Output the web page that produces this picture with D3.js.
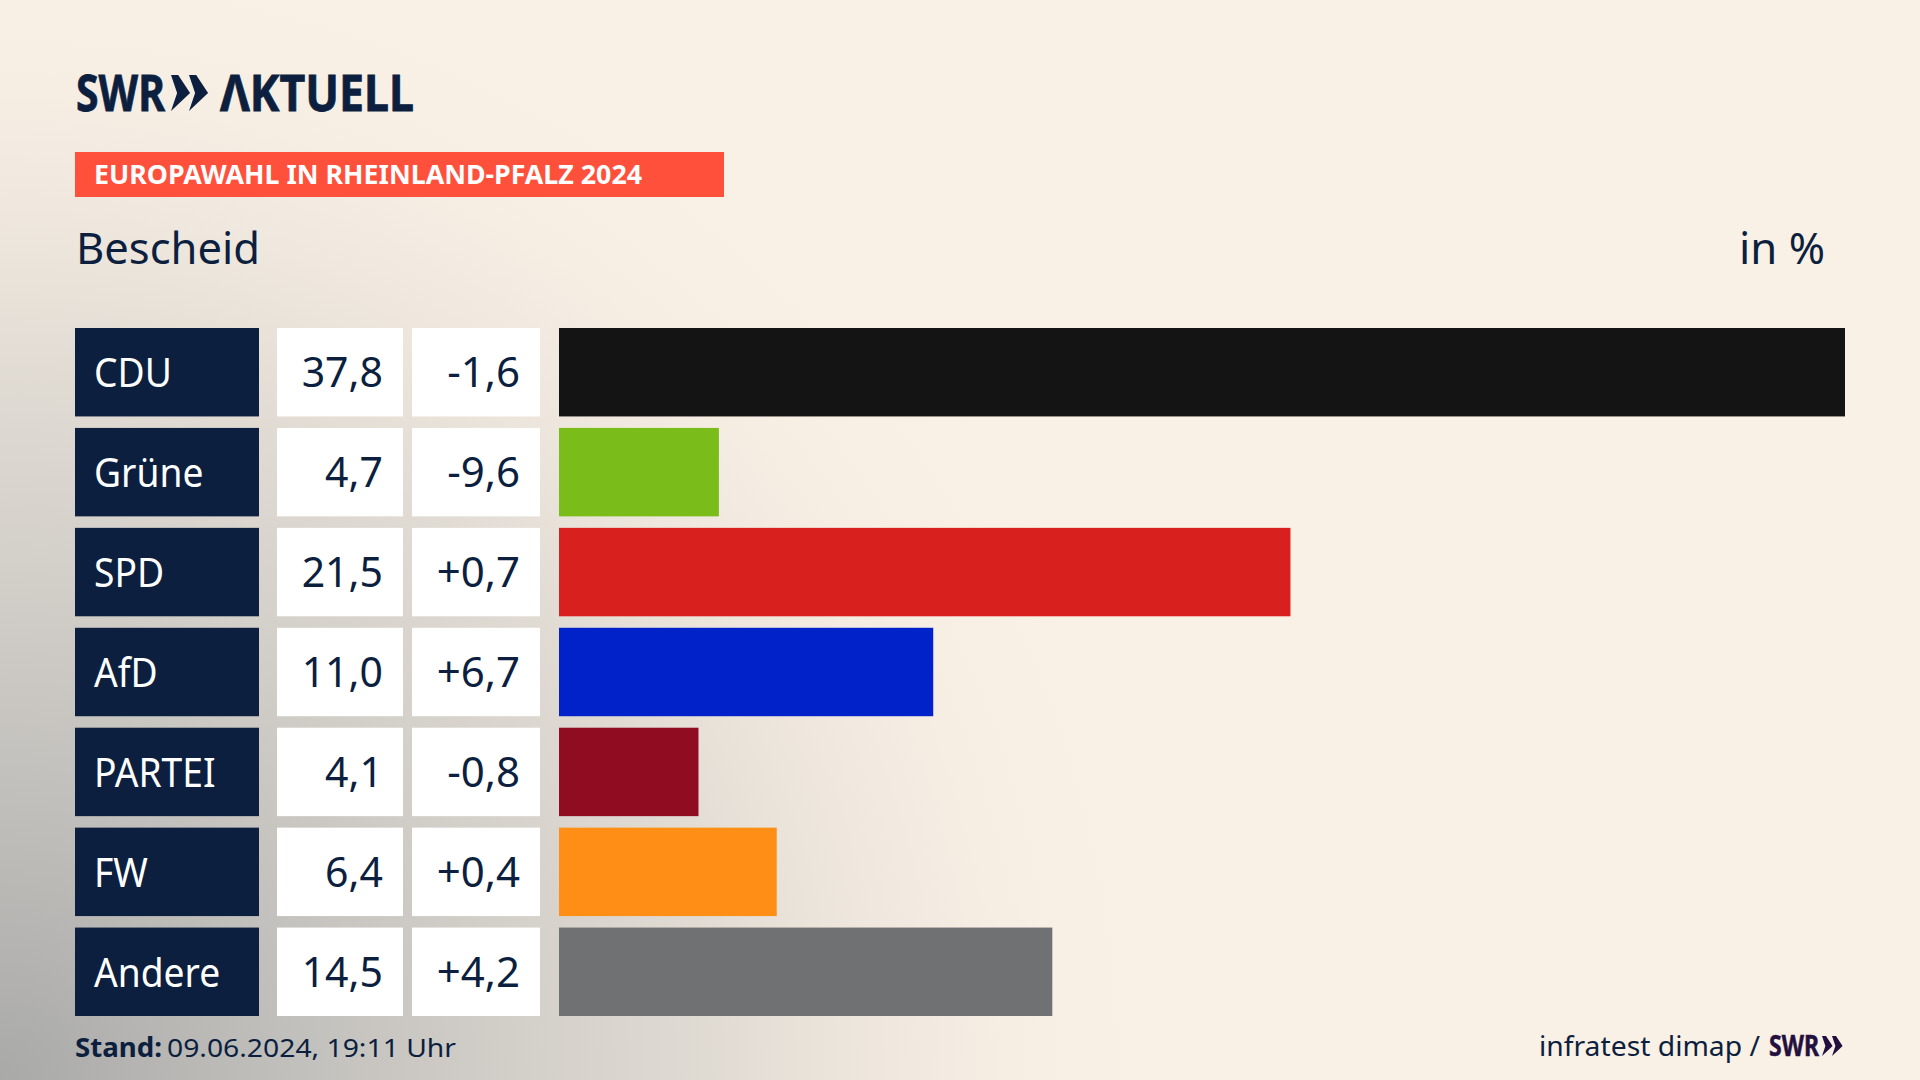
<!DOCTYPE html>
<html>
<head>
  <meta charset="utf-8">
  <title>Europawahl in Rheinland-Pfalz 2024 - Bescheid</title>
  <style>
    html, body { margin: 0; padding: 0; background: #faf1e6; }
    svg { display: block; }
    text { font-family: "Noto Sans", sans-serif; }
  </style>
</head>
<body>
<script src="https://cdn.jsdelivr.net/npm/d3@7"></script>
<script type="text/javascript">
var parties = ["CDU", "Grüne", "SPD", "AfD", "PARTEI", "FW", "Andere"];
var shares = [37.8, 4.7, 21.5, 11.0, 4.1, 6.4, 14.5];
var changes = [-1.6, -9.6, 0.7, 6.7, -0.8, 0.4, 4.2];
var partyColors = ["#141414", "#7abd1a", "#d8201e", "#0022c8", "#900c20", "#ff8e16", "#707173"];

var w = 1920;
var h = 1080;
var navy = "#0c1f3f";

var svg = d3.select("body")
            .append("svg")
            .attr("width", w)
            .attr("height", h);

// background, cream with a grey glow out of the lower left corner
var defs = svg.append("defs");
var glow = defs.append("radialGradient")
               .attr("id", "glow")
               .attr("gradientUnits", "userSpaceOnUse")
               .attr("cx", 0)
               .attr("cy", 1080)
               .attr("r", 1000)
               .attr("gradientTransform", "translate(0 1080) scale(1.2 1.18) translate(0 -1080)");
glow.append("stop").attr("offset", "0").attr("stop-color", "#a9a9a8").attr("stop-opacity", 1);
glow.append("stop").attr("offset", "0.3").attr("stop-color", "#c4c2be").attr("stop-opacity", 0.95);
glow.append("stop").attr("offset", "0.6").attr("stop-color", "#dcd7d0").attr("stop-opacity", 0.85);
glow.append("stop").attr("offset", "1").attr("stop-color", "#faf1e6").attr("stop-opacity", 0);

svg.append("rect").attr("width", w).attr("height", h).attr("fill", "#faf1e6");
svg.append("rect").attr("width", w).attr("height", h).attr("fill", "url(#glow)");

// scales
var y = d3.scaleBand()
          .domain(parties)
          .range([328, 1016])
          .paddingInner(0.115);

var x = d3.scaleLinear()
          .domain([0, 37.8])
          .range([559, 1845]);

var de = d3.formatLocale({
  decimal: ",",
  thousands: ".",
  grouping: [3],
  currency: ["", " €"],
  minus: "-"
});
var fmtShare = de.format(".1f");
var fmtChange = de.format("+.1f");

// squeeze text horizontally, the original face is narrower than Noto Sans
function label(parent, str, px, py, size, fill, weight, anchor, len) {
  var t = parent.append("text")
                .text(str)
                .attr("x", px)
                .attr("y", py)
                .attr("font-size", size)
                .attr("font-weight", weight || 400)
                .attr("text-anchor", anchor || "start")
                .attr("fill", fill);
  if (len) {
    t.attr("textLength", len).attr("lengthAdjust", "spacingAndGlyphs");
  }
  return t;
}

function chevrons(parent, px, py, size, fill) {
  var cw = size * 0.53;
  var t = size * 0.2;
  [0, 1].forEach(function (i) {
    var x0 = px + i * (cw - size * 0.03);
    parent.append("path")
          .attr("d", "M" + x0 + "," + py +
                     "L" + (x0 + t) + "," + py +
                     "L" + (x0 + cw) + "," + (py + size / 2) +
                     "L" + x0 + "," + (py + size) +
                     "L" + (x0 + cw * 0.32) + "," + (py + size / 2) + "Z")
          .attr("fill", fill);
  });
}

// header
label(svg, "SWR", 76, 111, 50, navy, 700, "start", 89).attr("stroke", navy).attr("stroke-width", 0.8);
chevrons(svg, 171, 75, 36, navy);
label(svg, "ΛKTUELL", 220, 111, 50, navy, 700, "start", 194).attr("stroke", navy).attr("stroke-width", 0.8);

svg.append("rect").attr("x", 75).attr("y", 152).attr("width", 649).attr("height", 45).attr("fill", "#ff503c");
label(svg, "EUROPAWAHL IN RHEINLAND-PFALZ 2024", 94, 184, 27, "#ffffff", 700, "start", 548);

label(svg, "Bescheid", 76, 264, 44, navy, 400, "start", 184);
label(svg, "in %", 1825, 264, 44, navy, 400, "end", 86);

// rows
svg.selectAll("rect.party")
   .data(parties)
   .enter()
   .append("rect")
   .attr("class", "party")
   .attr("x", 75)
   .attr("y", function (d) { return y(d); })
   .attr("width", 184)
   .attr("height", y.bandwidth())
   .attr("fill", navy);

svg.selectAll("rect.share")
   .data(parties)
   .enter()
   .append("rect")
   .attr("class", "share")
   .attr("x", 277)
   .attr("y", function (d) { return y(d); })
   .attr("width", 126)
   .attr("height", y.bandwidth())
   .attr("fill", "#ffffff");

svg.selectAll("rect.change")
   .data(parties)
   .enter()
   .append("rect")
   .attr("class", "change")
   .attr("x", 412)
   .attr("y", function (d) { return y(d); })
   .attr("width", 128)
   .attr("height", y.bandwidth())
   .attr("fill", "#ffffff");

svg.selectAll("rect.bar")
   .data(parties)
   .enter()
   .append("rect")
   .attr("class", "bar")
   .attr("x", x(0))
   .attr("y", function (d) { return y(d); })
   .attr("width", function (d, i) { return x(shares[i]) - x(0); })
   .attr("height", y.bandwidth())
   .attr("fill", function (d, i) { return partyColors[i]; });

svg.selectAll("text.party")
   .data(parties)
   .enter()
   .append("text")
   .attr("class", "party")
   .text(function (d) { return d; })
   .attr("transform", function (d) { return "translate(94," + (y(d) + 59) + ") scale(0.93,1)"; })
   .attr("font-size", 40)
   .attr("fill", "#ffffff");

svg.selectAll("text.share")
   .data(parties)
   .enter()
   .append("text")
   .attr("class", "share")
   .text(function (d, i) { return fmtShare(shares[i]); })
   .attr("x", 383)
   .attr("y", function (d) { return y(d) + 59; })
   .attr("font-size", 41)
   .attr("text-anchor", "end")
   .attr("fill", navy);

svg.selectAll("text.change")
   .data(parties)
   .enter()
   .append("text")
   .attr("class", "change")
   .text(function (d, i) { return fmtChange(changes[i]); })
   .attr("x", 520)
   .attr("y", function (d) { return y(d) + 59; })
   .attr("font-size", 42)
   .attr("text-anchor", "end")
   .attr("fill", navy);

// footer
label(svg, "Stand:", 75, 1057, 26, navy, 700, "start", 87);
label(svg, "09.06.2024, 19:11 Uhr", 167, 1057, 26, navy, 400, "start", 289);
label(svg, "infratest dimap /", 1539, 1056, 28, navy, 400, "start", 221);
label(svg, "SWR", 1769, 1056, 28, "#24103f", 700, "start", 50).attr("stroke", "#24103f").attr("stroke-width", 0.5);
chevrons(svg, 1822, 1036, 20, "#24103f");
</script>
</body>
</html>
